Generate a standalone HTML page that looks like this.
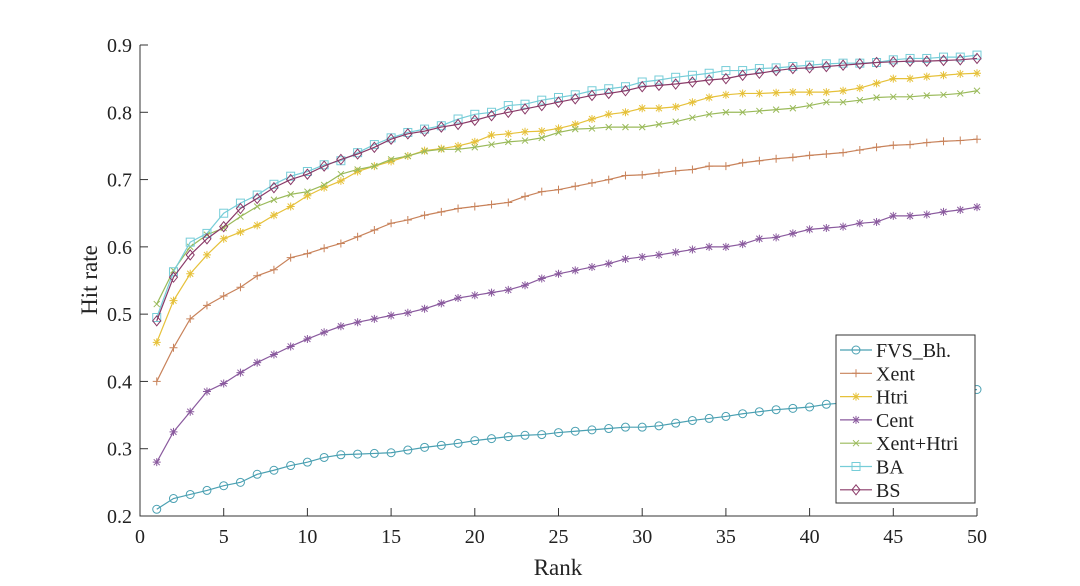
<!DOCTYPE html>
<html><head><meta charset="utf-8"><style>
body{margin:0;background:#fff}
svg text{font-family:"Liberation Serif",serif;fill:#222}
</style></head><body>
<svg id="c" width="1080" height="581" xmlns="http://www.w3.org/2000/svg"></svg>
<script>
const xTicks=[0,5,10,15,20,25,30,35,40,45,50];
const yTicks=[0.2,0.3,0.4,0.5,0.6,0.7,0.8,0.9];
const seriesNames=["FVS_Bh.","Xent","Htri","Cent","Xent+Htri","BA","BS"];
const fvs=[0.21,0.226,0.232,0.238,0.245,0.25,0.262,0.268,0.275,0.28,0.287,0.291,0.292,0.293,0.294,0.298,0.302,0.305,0.308,0.312,0.315,0.318,0.32,0.321,0.324,0.326,0.328,0.33,0.332,0.332,0.334,0.338,0.342,0.345,0.348,0.352,0.355,0.358,0.36,0.362,0.366,0.368,0.371,0.374,0.377,0.378,0.38,0.382,0.384,0.388];
const xent=[0.40,0.45,0.493,0.513,0.527,0.54,0.557,0.566,0.584,0.59,0.598,0.605,0.615,0.625,0.635,0.64,0.647,0.652,0.657,0.66,0.663,0.666,0.675,0.682,0.685,0.69,0.695,0.7,0.706,0.707,0.71,0.713,0.715,0.72,0.72,0.725,0.728,0.731,0.733,0.736,0.738,0.74,0.744,0.748,0.751,0.752,0.755,0.757,0.758,0.76];
const htri=[0.458,0.52,0.56,0.588,0.612,0.622,0.632,0.647,0.66,0.676,0.688,0.698,0.712,0.72,0.727,0.735,0.743,0.746,0.75,0.756,0.766,0.768,0.771,0.772,0.776,0.782,0.79,0.797,0.8,0.806,0.806,0.808,0.815,0.822,0.826,0.828,0.828,0.829,0.83,0.83,0.83,0.832,0.836,0.843,0.85,0.85,0.853,0.855,0.857,0.858];
const cent=[0.28,0.325,0.355,0.385,0.397,0.413,0.428,0.44,0.452,0.463,0.473,0.482,0.488,0.493,0.498,0.502,0.508,0.516,0.524,0.528,0.532,0.536,0.543,0.553,0.56,0.565,0.57,0.575,0.582,0.585,0.588,0.592,0.596,0.6,0.6,0.604,0.612,0.614,0.62,0.626,0.628,0.63,0.635,0.637,0.646,0.646,0.648,0.652,0.655,0.659];
const xentHtri=[0.515,0.565,0.6,0.618,0.628,0.645,0.66,0.67,0.678,0.682,0.692,0.708,0.715,0.72,0.73,0.735,0.742,0.745,0.745,0.748,0.752,0.756,0.758,0.762,0.77,0.775,0.776,0.778,0.778,0.778,0.782,0.786,0.792,0.797,0.8,0.8,0.802,0.804,0.806,0.81,0.815,0.815,0.818,0.822,0.823,0.823,0.825,0.826,0.828,0.832];
const ba=[0.495,0.563,0.607,0.62,0.65,0.665,0.677,0.693,0.705,0.712,0.722,0.728,0.74,0.752,0.762,0.77,0.775,0.78,0.79,0.797,0.8,0.81,0.812,0.818,0.822,0.826,0.832,0.835,0.838,0.845,0.848,0.852,0.855,0.858,0.862,0.862,0.865,0.866,0.868,0.87,0.872,0.873,0.873,0.874,0.878,0.88,0.88,0.882,0.882,0.885];
const bs=[0.49,0.555,0.588,0.612,0.63,0.657,0.672,0.688,0.7,0.708,0.72,0.73,0.738,0.748,0.76,0.768,0.772,0.778,0.782,0.788,0.795,0.8,0.805,0.81,0.815,0.82,0.825,0.828,0.832,0.838,0.84,0.842,0.845,0.848,0.85,0.855,0.858,0.862,0.865,0.866,0.868,0.87,0.872,0.874,0.875,0.876,0.876,0.877,0.878,0.88];
const allSeries=[fvs,xent,htri,cent,xentHtri,ba,bs];
const colors=["#4aa0b2","#c8825a","#e6c13a","#8a5a9e","#9aba5a","#76cdd8","#8a3a68"];
const markers=["circle","plus","star","star","x","square","diamond"];

const NS="http://www.w3.org/2000/svg",svg=document.getElementById('c');
const X0=140,X1=977,Y0=516,Y1=45;
const sx=v=>X0+(v-0)/(50-0)*(X1-X0);
const sy=v=>Y0-(v-0.2)/(0.9-0.2)*(Y0-Y1);
function mk(t,a,p){const e=document.createElementNS(NS,t);for(const k in a)e.setAttribute(k,a[k]);(p||svg).appendChild(e);return e;}
function marker(g,type,x,y,c){
 const s={fill:"none",stroke:c,"stroke-width":1};
 if(type==="circle")return mk("circle",Object.assign({cx:x,cy:y,r:4},s),g);
 if(type==="square")return mk("rect",Object.assign({x:x-4,y:y-4,width:8,height:8},s),g);
 if(type==="diamond")return mk("path",Object.assign({d:`M${x} ${y-5}L${x+4} ${y}L${x} ${y+5}L${x-4} ${y}Z`},s),g);
 if(type==="plus")return mk("path",Object.assign({d:`M${x-4} ${y}H${x+4}M${x} ${y-4}V${x?y+4:0}`},s),g);
 if(type==="x")return mk("path",Object.assign({d:`M${x-3} ${y-3}L${x+3} ${y+3}M${x-3} ${y+3}L${x+3} ${y-3}`},s),g);
 return mk("path",Object.assign({d:`M${x-4} ${y}H${x+4}M${x} ${y-4}V${y+4}M${x-3} ${y-3}L${x+3} ${y+3}M${x-3} ${y+3}L${x+3} ${y-3}`},s),g);
}
// axes
const ax=mk("g",{});


mk("path",{d:`M${X0} ${Y1}V${Y0}H${X1}`,stroke:"#333",fill:"none","stroke-width":1},ax);
xTicks.forEach(t=>{mk("line",{x1:sx(t),x2:sx(t),y1:Y0,y2:Y0-8,stroke:"#333"},ax);
 const e=mk("text",{x:sx(t),y:Y0+27,"text-anchor":"middle","font-size":20},ax);e.textContent=t;
 
 });
yTicks.forEach(t=>{mk("line",{x1:X0,x2:X0+8,y1:sy(t),y2:sy(t),stroke:"#333"},ax);
 const e=mk("text",{x:X0-8,y:sy(t)+7,"text-anchor":"end","font-size":20},ax);e.textContent=t.toFixed(1);
 
 });
const xt=mk("text",{x:558,y:575,"text-anchor":"middle","font-size":23});xt.textContent="Rank";


const yt=mk("text",{x:97,y:280,"text-anchor":"middle","font-size":23,transform:"rotate(-90 97 280)"});yt.textContent="Hit rate";


// series
allSeries.forEach((d,i)=>{
 const g=mk("g",{});
 
 
 mk("polyline",{points:d.map((v,j)=>sx(j+1)+","+sy(v)).join(" "),fill:"none",stroke:colors[i],"stroke-width":1.2},g);
 d.forEach((v,j)=>marker(g,markers[i],sx(j+1),sy(v),colors[i]));
});
// legend
const lg=mk("g",{});


mk("rect",{x:836,y:335,width:139,height:168,fill:"#fff",stroke:"#333"},lg);
seriesNames.forEach((n,i)=>{
 const y=350+i*23.3;
 const e=mk("g",{},lg);
 
 
 mk("line",{x1:840,x2:872,y1:y,y2:y,stroke:colors[i],"stroke-width":1.2},e);
 marker(e,markers[i],856,y,colors[i]);
 const t=mk("text",{x:876,y:y+7,"font-size":20},e);t.textContent=n;
});
</script>
</body></html>
